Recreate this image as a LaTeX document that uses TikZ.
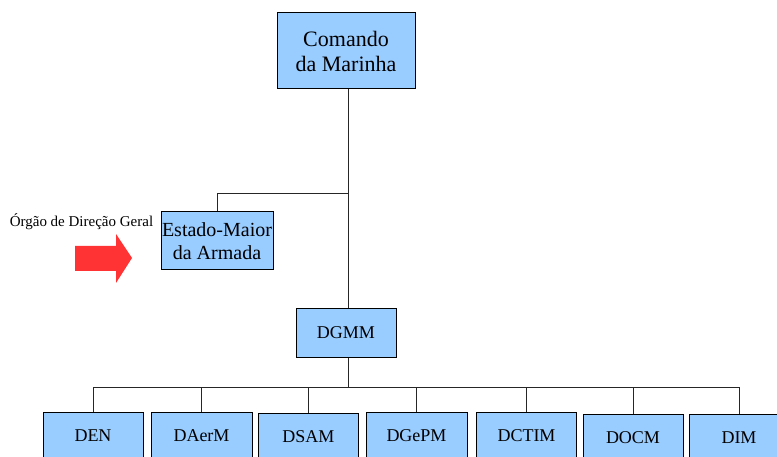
\documentclass[tikz,border=0pt]{standalone}
\usepackage{fontspec}
\setmainfont{Liberation Serif}
\usetikzlibrary{positioning}

\definecolor{boxblue}{HTML}{99CCFF}
\definecolor{arrowred}{HTML}{FF3333}

\begin{document}
\begin{tikzpicture}[x=1pt,y=-1pt,
  org/.style={rectangle,draw=black,line width=1pt,fill=boxblue,align=center,inner sep=1pt},
  topbox/.style={org,minimum width=138pt,minimum height=76pt,font=\fontsize{22}{25}\selectfont},
  midbox/.style={org,minimum width=112pt,minimum height=58pt,font=\fontsize{20}{23}\selectfont},
  dirbox/.style={org,minimum width=100pt,minimum height=48pt,font=\fontsize{18}{21}\selectfont},
  link/.style={draw=black!85,line width=0.9pt},
  note/.style={font=\fontsize{15}{18}\selectfont}
]
  \useasboundingbox (0,0) rectangle (777,457);
  \clip (0,0) rectangle (777,457);

  \node[topbox] (cmd) at (346,51) {Comando\\da Marinha};
  \node[midbox] (ema) at (217,241) {Estado-Maior\\da Armada};
  \node[dirbox] (dgmm) at (346,333) {DGMM};

  \node[note] (odg) at (81.5,222) {Órgão de Direção Geral};
  \fill[arrowred] (75,246) -- (116,246) -- (116,234) -- (132,258)
    -- (116,283) -- (116,271) -- (75,271) -- cycle;

  \node[dirbox] (den) at (93,436) {DEN};
  \node[dirbox,minimum width=101pt] (daerm) at (201.5,436) {DAerM};
  \node[dirbox] (dsam) at (308.5,437) {DSAM};
  \node[dirbox,minimum width=101pt] (dgepm) at (416.5,436) {DGePM};
  \node[dirbox] (dctim) at (526.5,436) {DCTIM};
  \node[dirbox] (docm) at (633,438) {DOCM};
  \node[dirbox] (dim) at (739,438) {DIM};

  \coordinate (jema) at (348,193);
  \coordinate (bus) at (348,387);
  \draw[link] (cmd.south -| jema) -- (dgmm.north -| jema);
  \draw[link] (ema.north) |- (jema);
  \draw[link] (dgmm.south -| bus) -- (bus);
  \foreach \d in {den,daerm,dsam,dgepm,dctim,docm,dim}
    \draw[link] (\d.north) |- (bus);
\end{tikzpicture}
\end{document}
